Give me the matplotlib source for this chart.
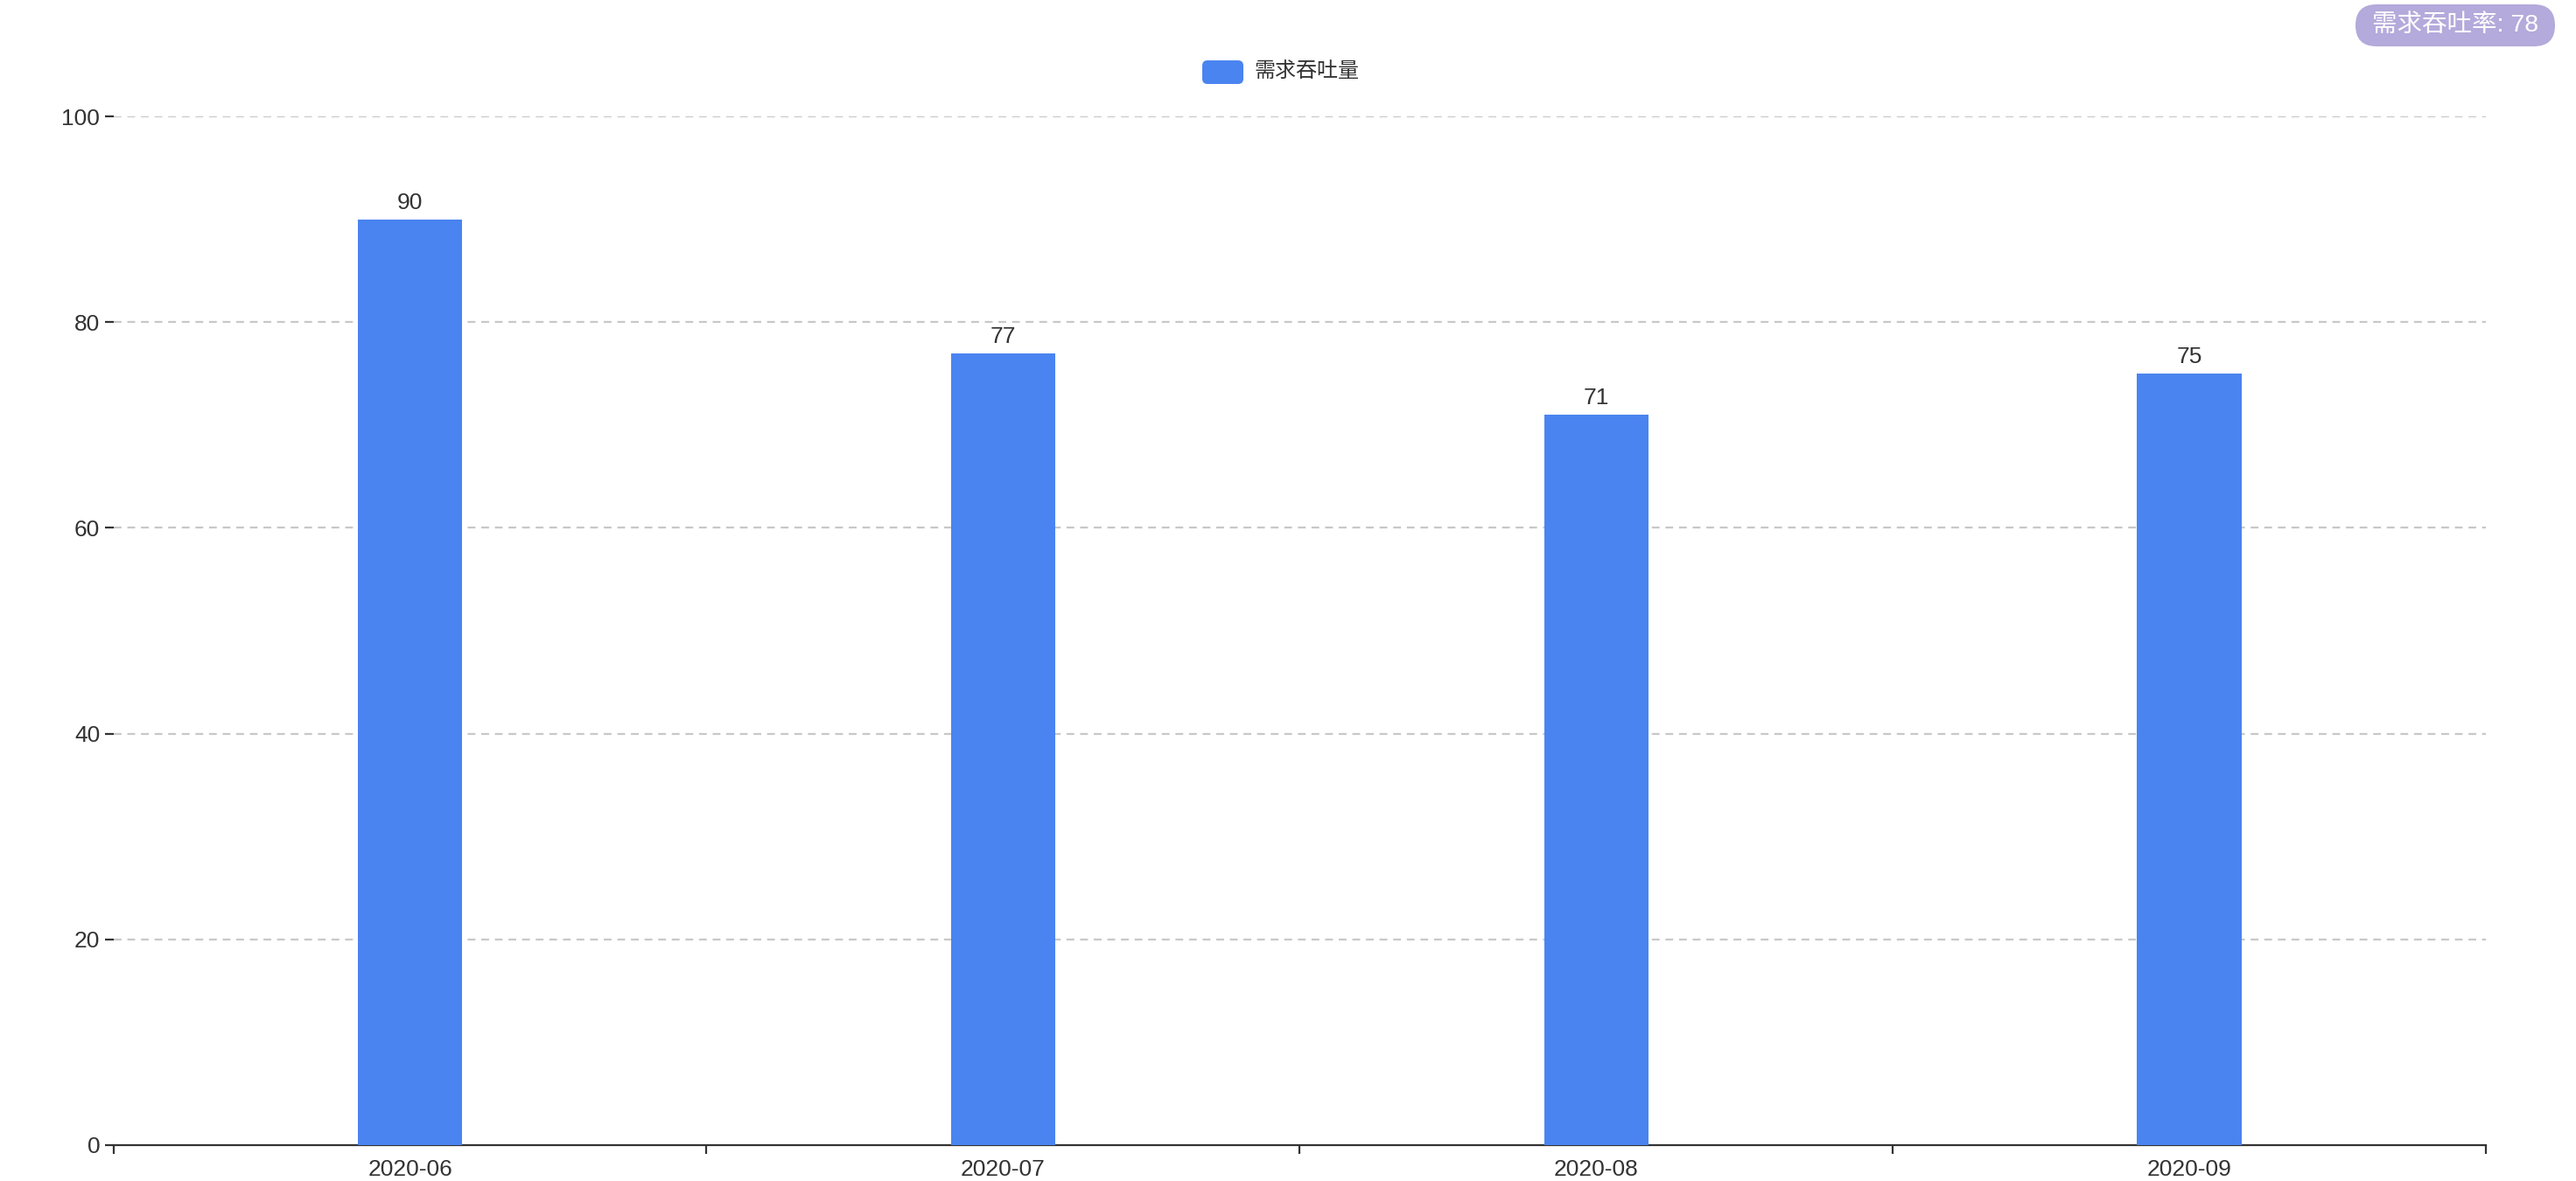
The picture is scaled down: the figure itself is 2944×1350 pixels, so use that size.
import matplotlib
matplotlib.use("Agg")
import matplotlib.pyplot as plt
from matplotlib.patches import FancyBboxPatch
from matplotlib.transforms import IdentityTransform

plt.rcParams['font.family'] = ['Liberation Sans', 'Noto Sans CJK SC', 'DejaVu Sans']

categories = ["2020-06", "2020-07", "2020-08", "2020-09"]
values = [90, 77, 71, 75]
series_name = "需求吞吐量"
badge_text = "需求吞吐率: 78"
y_ticks = [0, 20, 40, 60, 80, 100]

BAR_COLOR = "#4a84f0"
TEXT_COLOR = "#333333"
W, H, DPI = 2944, 1350, 100
NUM_FS = 19

fig = plt.figure(figsize=(W / DPI, H / DPI), dpi=DPI)
fig.patch.set_facecolor("white")

left, right = 129.6 / W, 2841 / W
bottom, top = (H - 1308.7) / H, (H - 133.3) / H
ax = fig.add_axes([left, bottom, right - left, top - bottom])

x = list(range(len(categories)))
bars = ax.bar(x, values, width=0.176, color=BAR_COLOR, zorder=3)
ax.bar_label(bars, labels=[str(v) for v in values], padding=5,
             fontsize=NUM_FS, color=TEXT_COLOR)

ax.set_xlim(-0.5, len(categories) - 0.5)
ax.set_ylim(0, 100)
ax.set_yticks(y_ticks)
ax.set_yticklabels([str(t) for t in y_ticks])
ax.set_xticks(x)
ax.set_xticklabels(categories)
ax.set_xticks([i - 0.5 for i in range(len(categories) + 1)], minor=True)

for t in y_ticks[1:]:
    ax.axhline(t, color="#c8c8c8", linewidth=1.6, linestyle=(0, (4, 3)), zorder=1)

for s in ["top", "right", "left"]:
    ax.spines[s].set_visible(False)
ax.spines["bottom"].set_color(TEXT_COLOR)
ax.spines["bottom"].set_linewidth(1.6)

ax.tick_params(axis="y", length=7, width=1.6, color=TEXT_COLOR, pad=4,
               labelsize=NUM_FS, labelcolor=TEXT_COLOR)
ax.tick_params(axis="x", which="major", length=0, pad=12,
               labelsize=NUM_FS, labelcolor=TEXT_COLOR)
ax.tick_params(axis="x", which="minor", length=7, width=1.6, color=TEXT_COLOR)

# legend (top centre)
leg_box = FancyBboxPatch((1374, H - 96), 47, 27,
                         boxstyle="round,pad=0,rounding_size=6",
                         transform=IdentityTransform(), facecolor=BAR_COLOR,
                         edgecolor="none")
fig.patches.append(leg_box)
fig.text(1433 / W, (H - 83) / H, series_name, fontsize=17.3, color=TEXT_COLOR,
         ha="left", va="center")

# badge (top right)
badge = FancyBboxPatch((2692, H - 53), 228, 48,
                       boxstyle="round,pad=0,rounding_size=24",
                       transform=IdentityTransform(), facecolor="#b4aadb",
                       edgecolor="none")
fig.patches.append(badge)
fig.text(2806 / W, (H - 29) / H, badge_text, fontsize=20.5, color="white",
         ha="center", va="center", fontweight="medium")

fig.savefig("out.png", dpi=DPI, facecolor="white")
